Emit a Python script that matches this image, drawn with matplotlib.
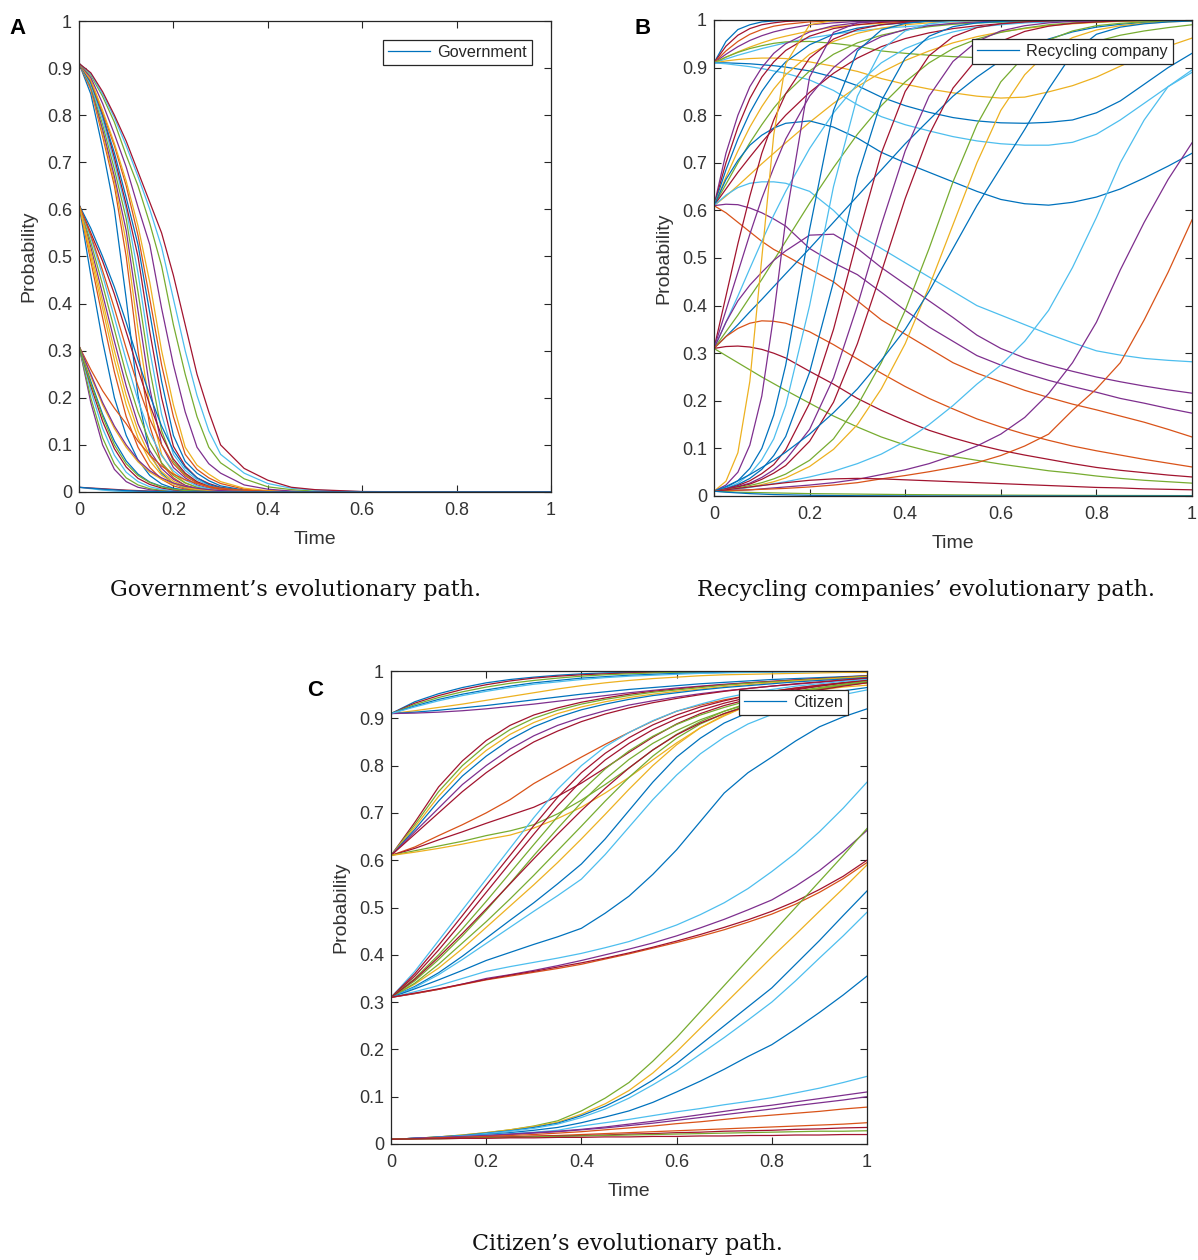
import matplotlib
matplotlib.use("Agg")
import matplotlib.pyplot as plt
import numpy as np

# ---------------- data ----------------
# Panel A: Government
time_A = [0, .025, .05, .075, .1, .125, .15, .175, .2, .225, .25, .275, .3, .35, .4, .45, .5, .6, .8, 1.0]
gov_from_091 = [
    [.91, .845, .73, .60, .41, .205, .08, .04, .018, .008, .004, .002, .001, 0, 0, 0, 0, 0, 0, 0],
    [.91, .855, .755, .65, .50, .30, .14, .06, .03, .014, .007, .004, .002, 0, 0, 0, 0, 0, 0, 0],
    [.91, .858, .762, .66, .53, .345, .18, .08, .04, .02, .01, .005, .003, .001, 0, 0, 0, 0, 0, 0],
    [.91, .86, .77, .67, .555, .385, .22, .10, .052, .03, .015, .008, .004, .001, 0, 0, 0, 0, 0, 0],
    [.91, .862, .78, .685, .58, .425, .26, .13, .065, .037, .02, .011, .006, .0015, 0, 0, 0, 0, 0, 0],
    [.91, .865, .79, .70, .60, .465, .30, .165, .08, .046, .026, .014, .008, .002, .0007, 0, 0, 0, 0, 0],
    [.91, .87, .80, .71, .61, .50, .34, .20, .097, .055, .03, .018, .01, .003, .001, 0, 0, 0, 0, 0],
    [.91, .87, .80, .72, .625, .525, .38, .235, .12, .065, .04, .024, .013, .004, .001, 0, 0, 0, 0, 0],
    [.91, .873, .805, .735, .65, .545, .41, .27, .16, .08, .048, .03, .018, .006, .002, .001, 0, 0, 0, 0],
    [.91, .875, .81, .74, .66, .565, .445, .30, .185, .095, .057, .038, .022, .008, .003, .001, 0, 0, 0, 0],
    [.91, .88, .825, .76, .69, .605, .525, .39, .27, .17, .095, .06, .04, .015, .006, .002, .001, 0, 0, 0],
    [.91, .885, .84, .785, .715, .65, .57, .48, .355, .25, .16, .095, .062, .028, .011, .005, .002, 0, 0, 0],
    [.91, .888, .845, .795, .735, .67, .60, .52, .41, .30, .205, .13, .08, .04, .018, .008, .004, .0008, 0, 0],
    [.91, .89, .85, .80, .745, .68, .615, .55, .46, .355, .25, .17, .10, .05, .025, .01, .005, .001, 0, 0],
]
gov_from_061 = [
    [.61, .46, .32, .20, .12, .068, .035, .017, .008, .004, .002, .001, 0, 0, 0, 0, 0, 0, 0, 0],
    [.61, .49, .37, .255, .16, .095, .052, .027, .013, .006, .003, .0015, .0007, 0, 0, 0, 0, 0, 0, 0],
    [.61, .50, .39, .28, .185, .115, .066, .036, .019, .009, .005, .002, .001, 0, 0, 0, 0, 0, 0, 0],
    [.61, .52, .42, .32, .225, .145, .088, .05, .027, .014, .007, .0035, .0017, .0004, 0, 0, 0, 0, 0, 0],
    [.61, .53, .44, .345, .25, .17, .105, .062, .035, .019, .01, .005, .0025, .0006, 0, 0, 0, 0, 0, 0],
    [.61, .54, .46, .37, .28, .195, .125, .077, .045, .025, .013, .007, .0035, .001, 0, 0, 0, 0, 0, 0],
    [.61, .55, .49, .42, .34, .26, .185, .12, .07, .04, .022, .012, .006, .0015, .0004, 0, 0, 0, 0, 0],
    [.61, .56, .50, .435, .36, .28, .205, .14, .088, .052, .03, .016, .009, .0025, .0007, 0, 0, 0, 0, 0],
    [.61, .545, .47, .39, .305, .225, .155, .10, .06, .034, .019, .01, .005, .0013, .0003, 0, 0, 0, 0, 0],
    [.61, .51, .405, .30, .205, .13, .077, .043, .023, .012, .006, .003, .0015, .0003, 0, 0, 0, 0, 0, 0],
]
gov_from_031 = [
    [.31, .19, .10, .048, .022, .01, .005, .0025, .0012, .0006, .0003, 0, 0, 0, 0, 0, 0, 0, 0, 0],
    [.31, .20, .115, .06, .03, .015, .007, .0035, .0017, .0008, .0004, 0, 0, 0, 0, 0, 0, 0, 0, 0],
    [.31, .215, .135, .078, .042, .022, .011, .0055, .0027, .0013, .0006, .0003, 0, 0, 0, 0, 0, 0, 0, 0],
    [.31, .225, .15, .092, .053, .029, .016, .0085, .0045, .0023, .0012, .0006, .0003, 0, 0, 0, 0, 0, 0, 0],
    [.31, .235, .165, .108, .066, .038, .021, .012, .0065, .0035, .0018, .0009, .0005, .0001, 0, 0, 0, 0, 0, 0],
    [.31, .26, .215, .178, .145, .108, .078, .055, .038, .026, .018, .012, .008, .0035, .0015, .0006, .0003, 0, 0, 0],
    [.31, .245, .185, .135, .095, .064, .042, .027, .017, .011, .007, .0045, .003, .001, .0004, 0, 0, 0, 0, 0],
    [.31, .25, .19, .14, .10, .068, .045, .03, .019, .012, .008, .005, .003, .001, .0004, 0, 0, 0, 0, 0],
    [.31, .23, .16, .10, .06, .035, .02, .011, .006, .003, .0016, .0008, .0004, 0, 0, 0, 0, 0, 0, 0],
]
gov_from_001 = [
    [.01, .007, .004, .002, .001, .0005, .0002, 0, 0, 0, 0, 0, 0, 0, 0, 0, 0, 0, 0, 0],
    [.01, .0085, .007, .0055, .004, .003, .002, .0014, .001, .0006, .0004, .0002, 0, 0, 0, 0, 0, 0, 0, 0],
    [.01, .008, .006, .0045, .003, .002, .0013, .0008, .0005, .0003, .0002, 0, 0, 0, 0, 0, 0, 0, 0, 0],
]

# Panel B: Recycling company
time_B = [0, .025, .05, .075, .1, .125, .15, .2, .25, .3, .35, .4, .45, .5, .55, .6, .65, .7, .75, .8, .85, .9, .95, 1.0]
rec_from_091 = [
    [.91, .955, .98, .99, .996, .998, .999, 1, 1, 1, 1, 1, 1, 1, 1, 1, 1, 1, 1, 1, 1, 1, 1, 1],
    [.91, .945, .968, .982, .99, .994, .997, .999, 1, 1, 1, 1, 1, 1, 1, 1, 1, 1, 1, 1, 1, 1, 1, 1],
    [.91, .935, .955, .97, .98, .987, .991, .996, .998, .999, 1, 1, 1, 1, 1, 1, 1, 1, 1, 1, 1, 1, 1, 1],
    [.91, .928, .944, .957, .967, .975, .981, .99, .994, .997, .998, .999, 1, 1, 1, 1, 1, 1, 1, 1, 1, 1, 1, 1],
    [.91, .922, .933, .943, .952, .96, .966, .977, .985, .99, .993, .995, .997, .998, .999, 1, 1, 1, 1, 1, 1, 1, 1, 1],
    [.91, .918, .926, .933, .94, .946, .952, .962, .97, .977, .982, .986, .989, .992, .994, .995, .996, .997, .998, .998, .999, .999, 1, 1],
    [.91, .922, .932, .94, .946, .951, .954, .955, .951, .945, .935, .93, .926, .923, .921, .921, .923, .93, .942, .955, .968, .977, .984, .99],
    [.91, .914, .917, .919, .92, .92, .919, .912, .903, .892, .877, .865, .855, .847, .84, .836, .838, .849, .862, .88, .903, .925, .945, .962],
    [.91, .91, .909, .908, .906, .904, .901, .893, .88, .862, .838, .82, .806, .795, .788, .784, .783, .785, .79, .805, .83, .865, .9, .93],
    [.91, .908, .905, .902, .898, .893, .888, .874, .852, .822, .797, .78, .767, .755, .746, .74, .737, .737, .743, .76, .79, .825, .86, .89],
]
rec_from_061 = [
    [.61, .72, .80, .86, .90, .93, .95, .975, .988, .994, .997, .999, 1, 1, 1, 1, 1, 1, 1, 1, 1, 1, 1, 1],
    [.61, .70, .775, .835, .88, .912, .936, .966, .982, .99, .995, .997, .999, 1, 1, 1, 1, 1, 1, 1, 1, 1, 1, 1],
    [.61, .685, .75, .805, .85, .885, .912, .948, .97, .983, .99, .994, .997, .998, .999, 1, 1, 1, 1, 1, 1, 1, 1, 1],
    [.61, .67, .725, .775, .818, .855, .885, .928, .955, .972, .983, .99, .994, .996, .998, .999, 1, 1, 1, 1, 1, 1, 1, 1],
    [.61, .655, .70, .742, .78, .815, .845, .893, .928, .952, .968, .979, .986, .991, .994, .996, .997, .998, .999, 1, 1, 1, 1, 1],
    [.61, .645, .68, .712, .743, .772, .80, .848, .888, .92, .944, .961, .973, .982, .988, .992, .995, .997, .998, .999, 1, 1, 1, 1],
    [.61, .63, .652, .675, .698, .72, .742, .785, .825, .86, .89, .915, .935, .952, .965, .975, .982, .988, .992, .995, .997, .998, .999, 1],
    [.61, .665, .705, .737, .758, .773, .783, .788, .775, .752, .722, .70, .68, .66, .64, .623, .614, .611, .617, .628, .645, .668, .693, .72],
    [.61, .632, .648, .657, .66, .66, .657, .64, .60, .55, .52, .49, .46, .43, .40, .38, .36, .34, .322, .305, .296, .289, .285, .282],
    [.61, .613, .612, .605, .595, .582, .567, .52, .49, .465, .428, .39, .355, .325, .295, .275, .258, .243, .23, .218, .205, .195, .184, .174],
    [.61, .595, .575, .555, .535, .518, .505, .477, .45, .41, .37, .34, .31, .28, .258, .24, .222, .207, .193, .181, .168, .155, .14, .124],
]
rec_from_031 = [
    [.31, .42, .53, .63, .72, .79, .845, .92, .96, .98, .99, .995, .998, .999, 1, 1, 1, 1, 1, 1, 1, 1, 1, 1],
    [.31, .39, .47, .55, .625, .69, .75, .84, .90, .94, .965, .98, .988, .993, .996, .998, .999, 1, 1, 1, 1, 1, 1, 1],
    [.31, .365, .42, .478, .535, .59, .64, .73, .805, .865, .91, .94, .96, .975, .985, .99, .994, .996, .998, .999, 1, 1, 1, 1],
    [.31, .335, .36, .387, .413, .44, .467, .52, .575, .63, .685, .74, .79, .84, .88, .915, .94, .96, .975, .985, .991, .995, .997, .998],
    [.31, .345, .38, .418, .455, .495, .535, .615, .69, .76, .82, .87, .91, .94, .96, .974, .983, .99, .994, .996, .998, .999, 1, 1],
    [.31, .365, .41, .443, .47, .495, .515, .548, .55, .52, .48, .445, .41, .375, .338, .31, .29, .275, .262, .25, .24, .231, .223, .216],
    [.31, .335, .352, .363, .368, .367, .363, .345, .318, .288, .258, .23, .205, .183, .162, .145, .13, .117, .105, .095, .086, .077, .069, .061],
    [.31, .314, .315, .313, .308, .3, .29, .262, .235, .205, .18, .158, .138, .122, .108, .096, .086, .077, .068, .06, .054, .049, .044, .04],
    [.31, .295, .28, .265, .25, .236, .222, .195, .168, .145, .124, .107, .094, .083, .075, .067, .06, .053, .048, .042, .037, .033, .03, .027],
]
rec_from_001 = [
    [.01, .031, .091, .241, .5, .759, .908, .99, .999, 1, 1, 1, 1, 1, 1, 1, 1, 1, 1, 1, 1, 1, 1, 1],
    [.01, .023, .05, .107, .21, .38, .58, .88, .974, .994, .999, 1, 1, 1, 1, 1, 1, 1, 1, 1, 1, 1, 1, 1],
    [.01, .018, .032, .058, .10, .17, .275, .56, .81, .935, .979, .993, .998, .999, 1, 1, 1, 1, 1, 1, 1, 1, 1, 1],
    [.01, .0165, .027, .046, .076, .12, .19, .40, .65, .84, .937, .977, .992, .997, .999, 1, 1, 1, 1, 1, 1, 1, 1, 1],
    [.01, .0155, .024, .037, .056, .085, .125, .26, .45, .67, .83, .92, .966, .986, .994, .997, .999, 1, 1, 1, 1, 1, 1, 1],
    [.01, .015, .022, .032, .047, .066, .097, .195, .35, .54, .72, .85, .925, .965, .984, .992, .996, .998, .999, 1, 1, 1, 1, 1],
    [.01, .0145, .02, .027, .039, .055, .076, .14, .248, .40, .57, .725, .84, .913, .955, .977, .988, .994, .997, .998, .999, 1, 1, 1],
    [.01, .014, .019, .025, .035, .048, .064, .115, .197, .32, .47, .625, .759, .857, .918, .955, .976, .987, .993, .996, .998, .999, 1, 1],
    [.01, .013, .017, .022, .028, .036, .046, .075, .12, .19, .28, .39, .52, .66, .78, .87, .925, .958, .977, .988, .993, .996, .998, .999],
    [.01, .012, .015, .019, .024, .03, .038, .062, .098, .15, .225, .32, .44, .57, .70, .81, .885, .935, .963, .979, .988, .993, .996, .998],
    [.01, .02, .032, .045, .06, .075, .092, .13, .175, .225, .285, .35, .43, .52, .61, .69, .77, .855, .93, .97, .985, .992, .996, .998],
    [.01, .012, .015, .018, .022, .026, .03, .04, .052, .068, .088, .115, .15, .19, .235, .275, .325, .39, .48, .585, .70, .79, .86, .895],
    [.01, .011, .012, .013, .015, .017, .019, .023, .028, .035, .045, .055, .068, .085, .105, .13, .165, .215, .28, .365, .475, .575, .665, .742],
    [.01, .011, .012, .013, .014, .015, .016, .019, .023, .028, .036, .043, .051, .06, .07, .085, .105, .13, .18, .225, .28, .37, .47, .58],
    [.01, .013, .016, .019, .022, .025, .028, .033, .036, .037, .036, .034, .032, .03, .028, .026, .024, .022, .02, .018, .017, .015, .014, .013],
    [.01, .009, .008, .0075, .007, .0065, .006, .005, .0045, .004, .0035, .003, .0027, .0024, .0021, .0019, .0017, .0015, .0013, .0012, .0011, .001, .0009, .0008],
    [.01, .008, .0065, .005, .004, .003, .0025, .0015, .001, .0006, .0004, .0002, 0, 0, 0, 0, 0, 0, 0, 0, 0, 0, 0, 0],
]

# Panel C: Citizen
time_C = [0, .05, .1, .15, .2, .25, .3, .35, .4, .45, .5, .55, .6, .65, .7, .75, .8, .85, .9, .95, 1.0]
cit_from_091 = [
    [.91, .935, .952, .965, .975, .982, .987, .991, .994, .996, .997, .998, .999, .999, 1, 1, 1, 1, 1, 1, 1],
    [.91, .932, .948, .961, .971, .979, .985, .989, .992, .994, .996, .997, .998, .999, .999, 1, 1, 1, 1, 1, 1],
    [.91, .929, .944, .956, .966, .974, .98, .985, .989, .992, .994, .996, .997, .998, .999, .999, 1, 1, 1, 1, 1],
    [.91, .926, .94, .951, .96, .968, .975, .98, .985, .988, .991, .993, .995, .996, .997, .998, .998, .999, .999, 1, 1],
    [.91, .916, .923, .93, .938, .946, .954, .962, .969, .975, .98, .984, .987, .99, .992, .993, .994, .995, .996, .997, .997],
    [.91, .913, .917, .922, .927, .933, .939, .945, .951, .956, .961, .965, .969, .973, .976, .979, .982, .984, .986, .988, .99],
    [.91, .911, .913, .916, .92, .925, .93, .936, .942, .948, .954, .959, .964, .968, .972, .975, .978, .981, .983, .985, .987],
    [.91, .924, .937, .948, .957, .965, .972, .977, .982, .986, .989, .991, .993, .995, .996, .997, .998, .998, .999, .999, 1],
]
cit_from_061 = [
    [.61, .68, .755, .81, .853, .885, .907, .922, .934, .943, .951, .957, .962, .967, .971, .975, .978, .981, .984, .987, .99],
    [.61, .675, .745, .80, .843, .876, .90, .917, .93, .94, .948, .955, .96, .965, .97, .974, .977, .98, .983, .986, .989],
    [.61, .67, .735, .79, .832, .866, .891, .91, .924, .935, .944, .951, .957, .962, .967, .971, .975, .979, .982, .985, .988],
    [.61, .665, .725, .778, .82, .855, .882, .902, .918, .93, .94, .948, .954, .96, .965, .969, .973, .977, .98, .983, .986],
    [.61, .66, .71, .76, .80, .835, .863, .885, .902, .916, .928, .937, .945, .952, .958, .963, .968, .972, .976, .98, .984],
    [.61, .655, .70, .745, .785, .82, .85, .873, .893, .909, .922, .933, .942, .95, .957, .963, .968, .973, .977, .981, .985],
    [.61, .628, .652, .675, .70, .728, .762, .79, .818, .845, .87, .894, .915, .928, .939, .948, .957, .964, .97, .975, .98],
    [.61, .625, .643, .66, .678, .695, .712, .735, .763, .795, .828, .86, .888, .91, .927, .94, .951, .96, .968, .975, .98],
    [.61, .62, .63, .64, .652, .662, .675, .698, .727, .76, .795, .833, .866, .893, .915, .932, .945, .955, .963, .97, .975],
    [.61, .617, .625, .634, .644, .653, .668, .688, .712, .742, .775, .812, .848, .88, .905, .927, .945, .955, .963, .97, .975],
]
cit_from_031 = [
    [.31, .365, .43, .495, .56, .625, .69, .75, .80, .84, .87, .895, .915, .93, .943, .953, .961, .968, .973, .978, .982],
    [.31, .36, .42, .483, .547, .61, .673, .733, .785, .826, .859, .886, .907, .924, .937, .948, .957, .964, .97, .975, .98],
    [.31, .355, .41, .47, .532, .594, .655, .715, .768, .812, .847, .876, .899, .917, .932, .944, .954, .962, .968, .974, .979],
    [.31, .35, .40, .455, .513, .573, .633, .692, .746, .793, .831, .862, .887, .907, .923, .937, .948, .957, .965, .972, .978],
    [.31, .345, .39, .44, .494, .551, .61, .667, .722, .771, .813, .847, .874, .897, .915, .93, .942, .952, .961, .969, .976],
    [.31, .338, .372, .413, .458, .503, .548, .595, .645, .697, .75, .80, .844, .88, .907, .927, .942, .952, .96, .966, .97],
    [.31, .333, .362, .397, .435, .473, .51, .55, .592, .645, .705, .765, .818, .858, .89, .912, .927, .94, .95, .958, .965],
    [.31, .331, .358, .39, .424, .458, .492, .525, .56, .612, .67, .728, .78, .825, .86, .888, .908, .925, .939, .95, .96],
    [.31, .34, .38, .425, .47, .518, .568, .62, .672, .725, .775, .82, .858, .888, .91, .928, .942, .953, .962, .97, .977],
    [.31, .348, .395, .445, .497, .55, .603, .655, .705, .752, .795, .833, .865, .89, .91, .926, .94, .951, .96, .968, .975],
    [.31, .328, .347, .367, .388, .405, .422, .438, .456, .488, .524, .57, .622, .682, .742, .785, .818, .852, .882, .903, .92],
    [.31, .322, .335, .35, .365, .375, .384, .393, .403, .415, .428, .445, .463, .485, .51, .54, .576, .615, .66, .71, .765],
    [.31, .318, .327, .338, .35, .358, .367, .377, .388, .4, .412, .425, .44, .457, .475, .495, .516, .545, .578, .618, .663],
    [.31, .318, .327, .337, .347, .355, .363, .371, .38, .391, .402, .414, .426, .439, .453, .469, .486, .507, .532, .561, .595],
    [.31, .319, .328, .338, .348, .357, .365, .374, .383, .393, .404, .416, .429, .443, .458, .474, .492, .513, .538, .566, .60],
]
cit_from_001 = [
    [.01, .012, .015, .019, .024, .03, .038, .049, .07, .097, .13, .175, .225, .28, .335, .39, .445, .50, .555, .61, .667],
    [.01, .012, .015, .019, .024, .03, .037, .046, .063, .085, .113, .15, .195, .245, .295, .345, .395, .443, .492, .54, .59],
    [.01, .012, .015, .018, .023, .028, .035, .044, .06, .08, .105, .135, .17, .21, .25, .29, .33, .38, .43, .483, .535],
    [.01, .012, .014, .017, .022, .027, .033, .042, .056, .074, .097, .125, .155, .19, .225, .262, .30, .345, .393, .44, .49],
    [.01, .012, .014, .017, .02, .024, .029, .035, .045, .057, .07, .088, .11, .133, .158, .185, .21, .243, .278, .315, .355],
    [.01, .012, .014, .017, .019, .022, .025, .029, .038, .045, .052, .06, .068, .075, .083, .09, .098, .108, .118, .13, .143],
    [.01, .012, .014, .016, .018, .021, .024, .027, .031, .036, .042, .048, .055, .062, .069, .076, .082, .089, .096, .103, .11],
    [.01, .012, .013, .015, .017, .02, .023, .026, .03, .034, .039, .044, .05, .056, .062, .068, .074, .081, .087, .093, .10],
    [.01, .011, .013, .014, .016, .018, .02, .023, .026, .03, .034, .038, .043, .047, .052, .057, .061, .065, .069, .074, .078],
    [.01, .011, .012, .013, .014, .015, .017, .018, .02, .022, .024, .026, .028, .03, .032, .034, .036, .038, .04, .042, .045],
    [.01, .011, .012, .013, .014, .015, .016, .017, .018, .019, .021, .022, .024, .025, .027, .028, .029, .031, .032, .034, .035],
    [.01, .011, .011, .012, .013, .014, .015, .016, .017, .018, .019, .02, .021, .022, .023, .024, .025, .026, .027, .027, .028],
    [.01, .011, .011, .012, .012, .013, .013, .014, .014, .015, .015, .016, .016, .017, .017, .018, .018, .019, .019, .02, .02],
]

x_ticks = [0, 0.2, 0.4, 0.6, 0.8, 1.0]
x_tick_labels = ["0", "0.2", "0.4", "0.6", "0.8", "1"]
y_ticks = [0, .1, .2, .3, .4, .5, .6, .7, .8, .9, 1.0]
y_tick_labels = ["0", "0.1", "0.2", "0.3", "0.4", "0.5", "0.6", "0.7", "0.8", "0.9", "1"]

# ---------------- style ----------------
MATLAB = ['#0072BD', '#D95319', '#EDB120', '#7E2F8E', '#77AC30', '#4DBEEE', '#A2142F']
rec_colors = [[0, 6, 1, 3, 2, 5, 4, 2, 0, 5],
              [3, 6, 0, 2, 4, 6, 2, 0, 5, 3, 1],
              [6, 3, 5, 0, 4, 3, 1, 6, 4],
              [2, 3, 0, 5, 0, 6, 3, 6, 4, 2, 0, 5, 3, 1, 6, 4, 0]]
cit_colors = [[0, 6, 4, 0, 2, 0, 3, 5],
              [6, 4, 2, 0, 3, 6, 1, 6, 4, 2],
              [5, 6, 6, 4, 4, 2, 0, 5, 4, 6, 0, 5, 3, 1, 6],
              [4, 2, 0, 5, 0, 5, 3, 3, 1, 1, 6, 4, 6]]

W, H = 1198, 1260
plt.rcParams['font.family'] = ['Liberation Sans', 'DejaVu Sans']
fig = plt.figure(figsize=(W / 100, H / 100), dpi=100)


def make_axes(l, t, r, b):
    return fig.add_axes([l / W, 1 - b / H, (r - l) / W, (b - t) / H])


axA = make_axes(79, 21, 551, 492)
axB = make_axes(714, 20, 1192, 496)
axC = make_axes(391, 671, 867, 1144)

LW = 0.9


def style(ax, legend_label, wpx, hpx):
    ax.set_xlim(0, 1)
    ax.set_ylim(0, 1)
    ax.set_xticks(x_ticks)
    ax.set_xticklabels(x_tick_labels)
    ax.set_yticks(y_ticks)
    ax.set_yticklabels(y_tick_labels)
    ax.tick_params(direction='in', top=True, right=True, length=5, width=0.8,
                   color='#262626', labelcolor='#333333', labelsize=13)
    ax.tick_params(axis='x', pad=7)
    ax.tick_params(axis='y', pad=5)
    for s in ax.spines.values():
        s.set_color('#262626')
        s.set_linewidth(0.9)
    ax.set_xlabel('Time', fontsize=14, color='#333333', va='center')
    ax.xaxis.set_label_coords(0.5, -48 / hpx)
    ax.set_ylabel('Probability', fontsize=14, color='#333333', va='center')
    ax.yaxis.set_label_coords(-50 / wpx, 0.5)
    leg = ax.legend(loc='upper right', bbox_to_anchor=(1 - 19 / wpx, 1 - 19 / hpx),
                    borderaxespad=0, fancybox=False, framealpha=1, edgecolor='#262626',
                    fontsize=11.7, handlelength=2.6, handletextpad=0.45, borderpad=0.3)
    leg.get_frame().set_linewidth(0.9)
    for txt in leg.get_texts():
        txt.set_color('#262626')


# Panel A
k = 0
for grp in [gov_from_091, gov_from_061, gov_from_031, gov_from_001]:
    for vals in grp:
        axA.plot(time_A, vals, color=MATLAB[k % 7], lw=LW,
                 label='Government' if k == 0 else None)
        k += 1
style(axA, 'Government', 472, 471)

# Panel B
first = True
for grp, cols in zip([rec_from_091, rec_from_061, rec_from_031, rec_from_001], rec_colors):
    for vals, c in zip(grp, cols):
        axB.plot(time_B, vals, color=MATLAB[c], lw=LW,
                 label='Recycling company' if first else None)
        first = False
style(axB, 'Recycling company', 478, 476)

# Panel C
first = True
for grp, cols in zip([cit_from_091, cit_from_061, cit_from_031, cit_from_001], cit_colors):
    for vals, c in zip(grp, cols):
        axC.plot(time_C, vals, color=MATLAB[c], lw=LW,
                 label='Citizen' if first else None)
        first = False
style(axC, 'Citizen', 476, 473)

# panel letters
for txt, x, y in [('A', 17, 28), ('B', 643, 28), ('C', 315, 690)]:
    fig.text(x / W, 1 - y / H, txt, fontsize=16, fontweight='bold', ha='center', va='center',
             color='black')

# captions
for txt, x, y in [('Government\u2019s evolutionary path.', 296, 590),
                  ('Recycling companies\u2019 evolutionary path.', 926, 590),
                  ('Citizen\u2019s evolutionary path.', 627, 1244)]:
    fig.text(x / W, 1 - y / H, txt, fontsize=16, family='DejaVu Serif', ha='center', va='center',
             color='#111111')

fig.savefig('out.png', dpi=100)
